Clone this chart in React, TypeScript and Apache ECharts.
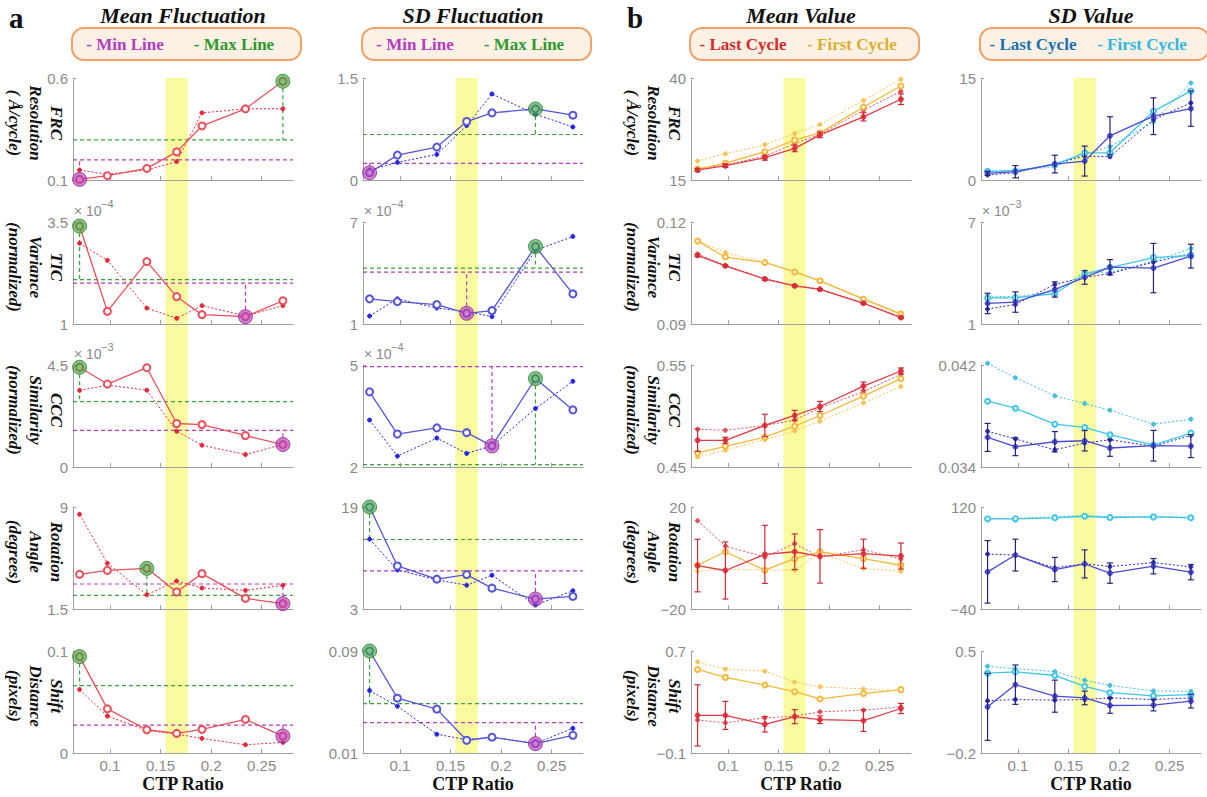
import React, { useEffect, useRef } from "react";
import * as echarts from "echarts";

// ---------- shared axis data ----------
const ctpRatio = [0.07, 0.0975, 0.1365, 0.166, 0.191, 0.234, 0.271];
const xTickValues = [0.1, 0.15, 0.2, 0.25];
const xDomain = [0.0635, 0.281];
const highlightBand = [0.155, 0.177];

const rowNames = [
  ["FRC", "Resolution", "( Å/cycle)"],
  ["TIC", "Variance", "(normalized)"],
  ["CCC", "Similarity", "(normalized)"],
  ["Rotation", "Angle", "(degrees)"],
  ["Shift", "Distance", "(pixels)"],
];
const columnTitles = ["Mean Fluctuation", "SD Fluctuation", "Mean Value", "SD Value"];
const panelLetters = ["a", "b"];
const legendTexts = [
  ["- Min Line", "- Max Line"],
  ["- Min Line", "- Max Line"],
  ["- Last Cycle", "- First Cycle"],
  ["- Last Cycle", "- First Cycle"],
];
const xAxisTitle = "CTP Ratio";

// ---------- a: Mean Fluctuation ----------
const meanFlucRange = [[0.1, 0.6], [1, 3.5], [0, 4.5], [1.5, 9], [0, 0.1]];
const meanFlucExp = ["", "-4", "-3", "", ""];
const meanFlucSolid = [
  [0.103, 0.121, 0.157, 0.238, 0.365, 0.449, 0.584],
  [3.4, 1.31, 2.53, 1.67, 1.23, 1.18, 1.57],
  [4.4, 3.66, 4.38, 1.92, 1.87, 1.39, 0.99],
  [4.05, 4.34, 4.49, 2.75, 4.1, 2.28, 1.89],
  [0.0945, 0.0433, 0.0228, 0.0192, 0.0231, 0.0329, 0.0166],
];
const meanFlucDotted = [
  [0.149, 0.128, 0.149, 0.19, 0.429, 0.449, 0.449],
  [2.98, 2.56, 1.39, 1.14, 1.45, 1.2, 1.45],
  [3.38, 3.61, 3.39, 1.58, 0.96, 0.55, 1.0],
  [8.46, 4.86, 2.55, 3.56, 3.04, 2.87, 3.24],
  [0.0622, 0.0362, 0.0221, 0.0186, 0.0143, 0.0081, 0.0104],
];
const meanFlucMaxLine = [0.297, 2.09, 2.88, 2.5, 0.0661];
const meanFlucMinLine = [0.199, 2.0, 1.62, 3.34, 0.0274];

// ---------- a: SD Fluctuation ----------
const sdFlucRange = [[0, 1.5], [1, 7], [2, 5], [3, 19], [0.01, 0.09]];
const sdFlucExp = ["", "-4", "-4", "", ""];
const sdFlucSolid = [
  [0.107, 0.366, 0.484, 0.86, 0.987, 1.045, 0.953],
  [2.48, 2.32, 2.14, 1.63, 1.79, 5.56, 2.77],
  [4.21, 2.97, 3.15, 3.01, 2.62, 4.6, 3.68],
  [19, 9.75, 7.68, 8.4, 6.27, 4.56, 4.97],
  [0.09, 0.053, 0.0444, 0.02, 0.0224, 0.0173, 0.0239],
];
const sdFlucDotted = [
  [0.147, 0.259, 0.376, 0.8, 1.265, 0.967, 0.78],
  [1.47, 2.48, 1.94, 1.73, 1.43, 5.33, 6.15],
  [3.38, 2.32, 2.85, 2.4, 2.62, 3.72, 4.52],
  [13.96, 9.13, 7.57, 6.74, 8.3, 3.62, 5.86],
  [0.059, 0.0467, 0.0247, 0.0205, 0.0224, 0.0175, 0.0294],
];
const sdFlucMaxLine = [0.669, 4.29, 2.07, 13.9, 0.0488];
const sdFlucMinLine = [0.244, 4.05, 4.95, 8.97, 0.0339];

// ---------- b: Mean Value ----------
const meanValRange = [[15, 40], [0.09, 0.12], [0.45, 0.55], [-20, 20], [-0.1, 0.7]];
const meanValExp = ["", "", "", "", ""];
const meanValLast = [
  [17.44, 18.5, 20.46, 22.74, 26.07, 30.47, 34.79],
  [0.1102, 0.1071, 0.1032, 0.1012, 0.1002, 0.0961, 0.0919],
  [0.4762, 0.4762, 0.4907, 0.5005, 0.5093, 0.5293, 0.5441],
  [-2.97, -4.9, 1.42, 2.45, 0.65, 1.68, 0.77],
  [0.195, 0.195, 0.125, 0.185, 0.161, 0.154, 0.249],
];
const meanValLastErr = [
  [0.4, 0.4, 0.6, 0.8, 0.7, 1.0, 1.3],
  [0.0004, 0.0002, 0.0003, 0.0003, 0.0002, 0.0002, 0.0003],
  [0.011, 0.003, 0.011, 0.005, 0.005, 0.004, 0.003],
  [10.3, 11.2, 11.4, 7, 10.5, 5.7, 5.1],
  [0.24, 0.11, 0.06, 0.055, 0.03, 0.085, 0.04],
];
const meanValLastDotted = [
  [17.7, 18.66, 20.86, 23.96, 26.2, 32.1, 36.74],
  [0.1106, 0.1072, 0.1034, 0.1013, 0.1003, 0.0962, 0.0921],
  [0.487, 0.486, 0.4907, 0.496, 0.508, 0.5238, 0.541],
  [14.6, 4.65, 0.39, 5.68, 0.39, 3.23, -0.39],
  [0.158, 0.137, 0.176, 0.189, 0.223, 0.236, 0.262],
];
const meanValFirst = [
  [17.69, 19.15, 21.92, 24.77, 26.56, 32.9, 38.05],
  [0.1144, 0.1097, 0.1081, 0.1053, 0.1027, 0.0973, 0.0929],
  [0.4638, 0.4703, 0.4792, 0.49, 0.5005, 0.5195, 0.5366],
  [-2.84, 2.45, -4.77, -0.26, 2.45, -0.26, -2.84],
  [0.555, 0.493, 0.433, 0.381, 0.324, 0.366, 0.397],
];
const meanValFirstDotted = [
  [19.64, 21.43, 23.63, 26.4, 28.6, 34.46, 39.67],
  [0.1145, 0.111, 0.1081, 0.1054, 0.1028, 0.0975, 0.0932],
  [0.4598, 0.4664, 0.4769, 0.4854, 0.4949, 0.5129, 0.529],
  [-5.16, -4.5, -4.65, -4.77, 2.06, -4.13, -5.16],
  [0.615, 0.558, 0.542, 0.456, 0.42, 0.402, 0.386],
];

// ---------- b: SD Value ----------
const sdValRange = [[0, 15], [1, 7], [0.034, 0.042], [-40, 120], [-0.2, 0.5]];
const sdValExp = ["", "-3", "", "", ""];
const sdValLast = [
  [0.98, 1.22, 2.34, 2.78, 6.5, 9.38, 10.5],
  [2.21, 2.29, 3.03, 3.74, 4.34, 4.29, 4.99],
  [0.03632, 0.03559, 0.03598, 0.03606, 0.03549, 0.03567, 0.03564],
  [18.3, 44.6, 21.9, 30.7, 16.3, 27.1, 17.8],
  [0.117, 0.269, 0.19, 0.178, 0.126, 0.129, 0.156],
];
const sdValLastErr = [
  [0.3, 0.9, 1.3, 2.2, 2.8, 2.7, 2.6],
  [0.6, 0.6, 0.45, 0.4, 0.45, 1.45, 0.7],
  [0.0011, 0.0007, 0.0008, 0.0008, 0.00065, 0.0012, 0.0009],
  [49, 25, 19, 22, 16, 12, 12],
  [0.23, 0.135, 0.11, 0.047, 0.053, 0.04, 0.047],
];
const sdValLastDotted = [
  [0.73, 1.07, 2.44, 3.52, 3.42, 8.89, 11.33],
  [1.88, 2.15, 3.33, 3.74, 3.97, 4.64, 5.14],
  [0.0368, 0.0362, 0.03535, 0.03588, 0.03614, 0.03562, 0.03648],
  [46.2, 44.6, 24.5, 31.2, 26.6, 32.8, 26.1],
  [0.158, 0.167, 0.163, 0.167, 0.178, 0.167, 0.178],
];
const sdValFirst = [
  [1.27, 1.37, 2.25, 4.0, 4.0, 10.1, 13.1],
  [2.53, 2.55, 2.78, 3.93, 4.32, 4.91, 5.03],
  [0.03916, 0.03861, 0.03736, 0.0371, 0.03653, 0.03572, 0.03666],
  [101.4, 101.4, 103, 105.5, 103.5, 104.5, 103],
  [0.348, 0.357, 0.332, 0.257, 0.214, 0.192, 0.2],
];
const sdValFirstDotted = [
  [1.22, 1.42, 1.95, 3.81, 4.89, 8.55, 14.26],
  [2.64, 2.6, 2.9, 4.07, 4.03, 4.69, 5.44],
  [0.04213, 0.041, 0.03958, 0.03898, 0.03846, 0.03736, 0.03775],
  [102, 102, 105, 106.5, 105, 105.5, 104],
  [0.396, 0.378, 0.359, 0.3, 0.264, 0.226, 0.223],
];

// ---------- layout / style ----------
const COL_LEFT = [73, 363, 691, 981];
const ROW_TOP = [78, 222, 365, 507, 651];
const GRID_W = 220;
const GRID_H = 102;
const AXIS_GRAY = "#a0a0a0";
const LABEL_GRAY = "#8a8a8a";
const SANS = "'Liberation Sans', Arial, sans-serif";
const SERIF = "'Liberation Serif', 'Times New Roman', serif";
const GREEN = "#3ea03e";
const PURPLE = "#b43cc0";

const fmt = (v: number) => String(+(+v).toPrecision(6)).replace("-", "\u2212");
const pts = (ys: number[]) => ctpRatio.map((x, i) => [x, ys[i]]);

type FlucCol = {
  kind: "fluc"; range: number[][]; exp: string[]; solid: number[][]; dotted: number[][];
  maxLine: number[]; minLine: number[]; solidColor: string; dotColor: string;
};
type ValCol = {
  kind: "val"; range: number[][]; exp: string[]; last: number[][]; lastErr: number[][];
  lastDot: number[][]; first: number[][]; firstDot: number[][];
  lastColor: string; lastDotColor: string; errColor: string; firstColor: string; firstDotColor: string;
};

const columns: (FlucCol | ValCol)[] = [
  { kind: "fluc", range: meanFlucRange, exp: meanFlucExp, solid: meanFlucSolid, dotted: meanFlucDotted,
    maxLine: meanFlucMaxLine, minLine: meanFlucMinLine, solidColor: "#e8505c", dotColor: "#e3293b" },
  { kind: "fluc", range: sdFlucRange, exp: sdFlucExp, solid: sdFlucSolid, dotted: sdFlucDotted,
    maxLine: sdFlucMaxLine, minLine: sdFlucMinLine, solidColor: "#5656d6", dotColor: "#2626e0" },
  { kind: "val", range: meanValRange, exp: meanValExp, last: meanValLast, lastErr: meanValLastErr,
    lastDot: meanValLastDotted, first: meanValFirst, firstDot: meanValFirstDotted,
    lastColor: "#e23a44", lastDotColor: "#e0505a", errColor: "#cc2a36", firstColor: "#f4b83a", firstDotColor: "#f2c45a" },
  { kind: "val", range: sdValRange, exp: sdValExp, last: sdValLast, lastErr: sdValLastErr,
    lastDot: sdValLastDotted, first: sdValFirst, firstDot: sdValFirstDotted,
    lastColor: "#4a4ad2", lastDotColor: "#2c2cb8", errColor: "#23237a", firstColor: "#3ec6e6", firstDotColor: "#48bedc" },
];

const legendColors = [
  [PURPLE, "#2e9a2e"],
  [PURPLE, "#2e9a2e"],
  ["#d82828", "#d8b030"],
  ["#1a70b0", "#30b8e0"],
];

function lineSeries(idx: number, ys: number[], color: string, dotted: boolean, symbol: string, size: number, z: number) {
  return {
    type: "line", xAxisIndex: idx, yAxisIndex: idx, data: pts(ys), clip: false, z,
    symbol, symbolSize: size, showSymbol: true,
    lineStyle: { color, width: dotted ? 1 : 1.3, type: dotted ? [2, 2] : "solid" },
    itemStyle: { color, borderColor: color, borderWidth: 1 },
    emphasis: { disabled: true },
  };
}

function segmentSeries(idx: number, data: number[][], color: string) {
  return {
    type: "line", xAxisIndex: idx, yAxisIndex: idx, data, clip: false, z: 2, silent: true,
    symbol: "none", showSymbol: false,
    lineStyle: { color, width: 1.2, type: [4, 3] },
    itemStyle: { color },
    emphasis: { disabled: true },
  };
}

function errorSeries(idx: number, ys: number[], errs: number[], color: string) {
  return {
    type: "custom", xAxisIndex: idx, yAxisIndex: idx, z: 4, clip: false,
    data: ctpRatio.map((x, i) => [x, ys[i], errs[i]]),
    encode: { x: 0, y: 1 },
    renderItem: (_p: any, api: any) => {
      const x = api.value(0), y = api.value(1), e = api.value(2);
      const a = api.coord([x, y + e]);
      const b = api.coord([x, y - e]);
      const st = { stroke: color, lineWidth: 1.2 };
      return {
        type: "group",
        children: [
          { type: "line", shape: { x1: a[0], y1: a[1], x2: b[0], y2: b[1] }, style: st },
          { type: "line", shape: { x1: a[0] - 3, y1: a[1], x2: a[0] + 3, y2: a[1] }, style: st },
          { type: "line", shape: { x1: b[0] - 3, y1: b[1], x2: b[0] + 3, y2: b[1] }, style: st },
        ],
      };
    },
  };
}

function buildOption() {
  const grid: any[] = [];
  const xAxis: any[] = [];
  const yAxis: any[] = [];
  const series: any[] = [];
  columns.forEach((col, c) => {
    for (let r = 0; r < 5; r++) {
      const idx = c * 5 + r;
      const [lo, hi] = col.range[r];
      grid.push({ left: COL_LEFT[c], top: ROW_TOP[r], width: GRID_W, height: GRID_H });
      xAxis.push({
        type: "value", gridIndex: idx, min: xDomain[0], max: xDomain[1],
        axisLine: { show: true, onZero: false, lineStyle: { color: AXIS_GRAY, width: 1 } },
        axisTick: { show: true, inside: true, length: 4, customValues: xTickValues, lineStyle: { color: AXIS_GRAY } },
        axisLabel: { show: r === 4, customValues: xTickValues, color: LABEL_GRAY, fontSize: 15, fontFamily: SANS, margin: 5, formatter: fmt },
        splitLine: { show: false },
      });
      yAxis.push({
        type: "value", gridIndex: idx, min: lo, max: hi,
        axisLine: { show: true, onZero: false, lineStyle: { color: AXIS_GRAY, width: 1 } },
        axisTick: { show: true, inside: true, length: 3, customValues: [hi], lineStyle: { color: AXIS_GRAY } },
        axisLabel: { show: true, customValues: [lo, hi], color: LABEL_GRAY, fontSize: 15, fontFamily: SANS, margin: 5, formatter: fmt },
        splitLine: { show: false },
      });
      if (col.kind === "fluc") {
        const s = col.solid[r];
        const iMax = s.indexOf(Math.max(...s));
        const iMin = s.indexOf(Math.min(...s));
        const mx = col.maxLine[r];
        const mn = col.minLine[r];
        series.push(segmentSeries(idx, [[xDomain[0], mx], [xDomain[1], mx]], GREEN));
        series.push(segmentSeries(idx, [[ctpRatio[iMax], s[iMax]], [ctpRatio[iMax], mx]], GREEN));
        series.push(segmentSeries(idx, [[xDomain[0], mn], [xDomain[1], mn]], PURPLE));
        series.push(segmentSeries(idx, [[ctpRatio[iMin], s[iMin]], [ctpRatio[iMin], mn]], PURPLE));
        series.push(lineSeries(idx, col.dotted[r], col.dotColor, true, "circle", 4, 3));
        series.push(lineSeries(idx, s, col.solidColor, false, "emptyCircle", 7, 4));
        series.push({
          type: "scatter", xAxisIndex: idx, yAxisIndex: idx, z: 5, clip: false, symbolSize: 14,
          data: [[ctpRatio[iMax], s[iMax]]],
          itemStyle: { color: "rgba(64,165,64,0.82)", borderColor: "#2e7d2e", borderWidth: 1 },
        });
        series.push({
          type: "scatter", xAxisIndex: idx, yAxisIndex: idx, z: 5, clip: false, symbolSize: 14,
          data: [[ctpRatio[iMin], s[iMin]]],
          itemStyle: { color: "rgba(185,60,185,0.82)", borderColor: "#8a2a8a", borderWidth: 1 },
        });
      } else {
        series.push(lineSeries(idx, col.firstDot[r], col.firstDotColor, true, "circle", 4, 2));
        series.push(lineSeries(idx, col.lastDot[r], col.lastDotColor, true, "circle", 4, 2));
        series.push(lineSeries(idx, col.first[r], col.firstColor, false, "emptyCircle", 5, 3));
        series.push(lineSeries(idx, col.last[r], col.lastColor, false, "circle", 5, 3));
        series.push(errorSeries(idx, col.last[r], col.lastErr[r], col.errColor));
      }
    }
  });
  return { animation: false, backgroundColor: "#ffffff", grid, xAxis, yAxis, series };
}

function buildGraphics(chart: any) {
  const g: any[] = [];
  columns.forEach((col, c) => {
    const x0 = chart.convertToPixel({ xAxisIndex: c * 5 }, highlightBand[0]);
    const x1 = chart.convertToPixel({ xAxisIndex: c * 5 }, highlightBand[1]);
    const y0 = chart.convertToPixel({ yAxisIndex: c * 5 }, col.range[0][1]);
    const y1 = chart.convertToPixel({ yAxisIndex: c * 5 + 4 }, col.range[4][0]);
    g.push({ type: "rect", z: -1, silent: true, shape: { x: x0, y: y0, width: x1 - x0, height: y1 - y0 }, style: { fill: "#fafa9e" } });

    const cx = COL_LEFT[c] + GRID_W / 2;
    g.push({ type: "text", x: cx, y: 15, style: { text: columnTitles[c], font: `bold italic 22px ${SERIF}`, fill: "#111", align: "center", verticalAlign: "middle" } });
    g.push({ type: "rect", shape: { x: COL_LEFT[c] - 1, y: 28, width: 229, height: 32, r: 12 }, style: { fill: "#fdf0e4", stroke: "#eea264", lineWidth: 2 } });
    g.push({ type: "text", x: COL_LEFT[c] + 52, y: 44, style: { text: legendTexts[c][0], font: `bold 17px ${SERIF}`, fill: legendColors[c][0], align: "center", verticalAlign: "middle" } });
    g.push({ type: "text", x: COL_LEFT[c] + 161, y: 44, style: { text: legendTexts[c][1], font: `bold 17px ${SERIF}`, fill: legendColors[c][1], align: "center", verticalAlign: "middle" } });
    g.push({ type: "text", x: cx, y: 784, style: { text: xAxisTitle, font: `bold 18px ${SERIF}`, fill: "#111", align: "center", verticalAlign: "middle" } });

    for (let r = 0; r < 5; r++) {
      if (c === 0 || c === 2) {
        g.push({
          type: "text", x: COL_LEFT[c] - 38, y: ROW_TOP[r] + 45, rotation: -Math.PI / 2,
          style: { text: rowNames[r].join("\n"), font: `bold italic 17px ${SERIF}`, fill: "#111", align: "center", verticalAlign: "middle", lineHeight: 21 },
        });
      }
      if (col.exp[r]) {
        g.push({ type: "text", x: COL_LEFT[c] + 1, y: ROW_TOP[r] - 11, style: { text: "\u00d7 10", font: `14px ${SANS}`, fill: LABEL_GRAY, align: "left", verticalAlign: "middle" } });
        g.push({ type: "text", x: COL_LEFT[c] + 28, y: ROW_TOP[r] - 18, style: { text: col.exp[r].replace("-", "\u2212"), font: `11px ${SANS}`, fill: LABEL_GRAY, align: "left", verticalAlign: "middle" } });
      }
    }
  });
  g.push({ type: "text", x: 9, y: 18, style: { text: panelLetters[0], font: `bold 29px ${SERIF}`, fill: "#111", align: "left", verticalAlign: "middle" } });
  g.push({ type: "text", x: 627, y: 18, style: { text: panelLetters[1], font: `bold 29px ${SERIF}`, fill: "#111", align: "left", verticalAlign: "middle" } });
  return g;
}

export default function App() {
  const ref = useRef<HTMLDivElement>(null);
  useEffect(() => {
    const chart = echarts.init(ref.current as HTMLDivElement, null, { renderer: "svg" });
    chart.setOption(buildOption() as any);
    chart.setOption({ graphic: { elements: buildGraphics(chart) } } as any);
    return () => chart.dispose();
  }, []);
  return (
    <div
      ref={ref}
      style={{ position: "absolute", left: 0, top: 0, width: 1207, height: 797, background: "#ffffff" }}
    />
  );
}
